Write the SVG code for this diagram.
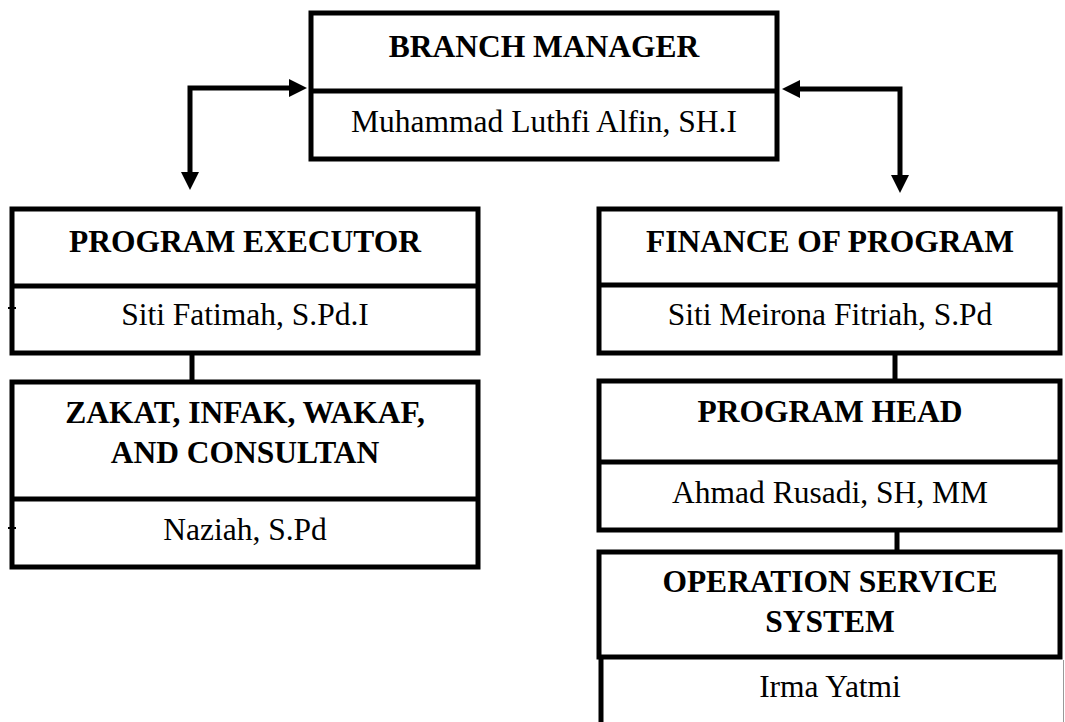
<svg xmlns="http://www.w3.org/2000/svg" width="1065" height="722" viewBox="0 0 1065 722">
<style>
.box{fill:#fff;stroke:#000;stroke-width:5}
.ln{fill:none;stroke:#000;stroke-width:5}
.t{font-family:"Liberation Serif","Times New Roman",serif;font-size:31.5px;fill:#000;text-anchor:middle}
.b{font-weight:bold}
</style>
<defs>
<marker id="ah" viewBox="0 -10 20 20" refX="0" refY="0" markerWidth="20" markerHeight="20" markerUnits="userSpaceOnUse" orient="auto-start-reverse">
<path d="M0,-9 L18,0 L0,9 z" fill="#000"/>
</marker>
</defs>
<rect width="1065" height="722" fill="#fff"/>
<g id="connectors">
<path class="ln" d="M190,172 V88 H289" marker-start="url(#ah)" marker-end="url(#ah)"/>
<path class="ln" d="M800,89 H900 V175" marker-start="url(#ah)" marker-end="url(#ah)"/>
<line class="ln" x1="192" y1="353" x2="192" y2="382"/>
<line class="ln" x1="895" y1="353" x2="895" y2="381"/>
<line class="ln" x1="897" y1="530" x2="897" y2="552"/>
</g>
<g id="branch-manager">
<rect class="box" x="311" y="13" width="466" height="146"/>
<line class="ln" x1="311" y1="91" x2="777" y2="91"/>
<text class="t b" x="544" y="57">BRANCH MANAGER</text>
<text class="t" x="544" y="132">Muhammad Luthfi Alfin, SH.I</text>
</g>
<g id="program-executor">
<rect class="box" x="12" y="209" width="466" height="144"/>
<line class="ln" x1="12" y1="286" x2="478" y2="286"/>
<line stroke="#000" stroke-width="2" x1="8" y1="308" x2="16" y2="308"/>
<text class="t b" x="245" y="252">PROGRAM EXECUTOR</text>
<text class="t" x="245" y="325">Siti Fatimah, S.Pd.I</text>
</g>
<g id="zakat">
<rect class="box" x="12" y="382" width="466" height="185"/>
<line class="ln" x1="12" y1="499" x2="478" y2="499"/>
<line stroke="#000" stroke-width="2" x1="8" y1="528" x2="16" y2="528"/>
<text class="t b" x="245" y="423">ZAKAT, INFAK, WAKAF,</text>
<text class="t b" x="245" y="463">AND CONSULTAN</text>
<text class="t" x="245" y="540">Naziah, S.Pd</text>
</g>
<g id="finance">
<rect class="box" x="599" y="209" width="461" height="144"/>
<line class="ln" x1="599" y1="285" x2="1060" y2="285"/>
<text class="t b" x="830" y="252">FINANCE OF PROGRAM</text>
<text class="t" x="830" y="325">Siti Meirona Fitriah, S.Pd</text>
</g>
<g id="program-head">
<rect class="box" x="599" y="381" width="461" height="149"/>
<line class="ln" x1="599" y1="462" x2="1060" y2="462"/>
<text class="t b" x="830" y="422">PROGRAM HEAD</text>
<text class="t" x="830" y="503">Ahmad Rusadi, SH, MM</text>
</g>
<g id="operation-service">
<rect class="box" x="599" y="552" width="461" height="105"/>
<line class="ln" x1="601" y1="657" x2="601" y2="722"/>
<line stroke="#999" stroke-width="1" x1="1063.5" y1="660" x2="1063.5" y2="722"/>
<text class="t b" x="830" y="592">OPERATION SERVICE</text>
<text class="t b" x="830" y="632">SYSTEM</text>
<text class="t" x="830" y="697">Irma Yatmi</text>
</g>
</svg>
